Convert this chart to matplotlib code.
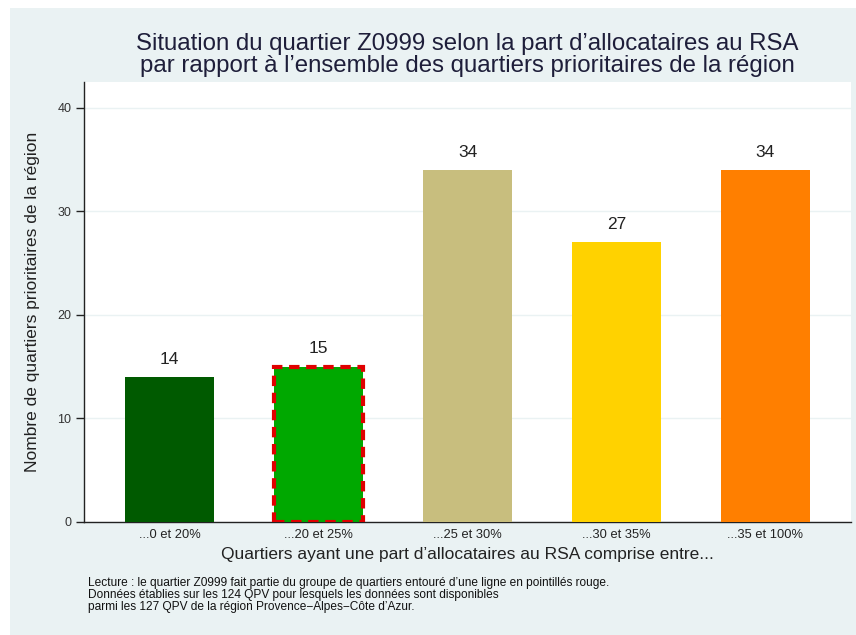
import matplotlib
matplotlib.use("Agg")
import matplotlib.pyplot as plt
from matplotlib.patches import Rectangle

plt.rcParams['font.family'] = ['Liberation Sans', 'DejaVu Sans']

# data
categories = ["...0 et 20%", "...20 et 25%", "...25 et 30%", "...30 et 35%", "...35 et 100%"]
counts = [14, 15, 34, 27, 34]
bar_colors = ["#005A00", "#00A800", "#C8BE7E", "#FFD200", "#FF7F00"]
highlight_index = 1

title = ("Situation du quartier Z0999 selon la part d\u2019allocataires au RSA\n"
         "par rapport \u00e0 l\u2019ensemble des quartiers prioritaires de la r\u00e9gion")
ylabel = "Nombre de quartiers prioritaires de la r\u00e9gion"
xlabel = "Quartiers ayant une part d\u2019allocataires au RSA comprise entre..."
note = ("Lecture : le quartier Z0999 fait partie du groupe de quartiers entour\u00e9 d\u2019une ligne en pointill\u00e9s rouge.\n"
        "Donn\u00e9es \u00e9tablies sur les 124 QPV pour lesquels les donn\u00e9es sont disponibles\n"
        "parmi les 127 QPV de la r\u00e9gion Provence\u2212Alpes\u2212C\u00f4te d\u2019Azur.")
yticks = [0, 10, 20, 30, 40]

BG = "#EAF2F3"
W, H = 856, 635

fig = plt.figure(figsize=(W / 100, H / 100), dpi=100)
fig.patch.set_facecolor("white")
# stata-like light background, small white margin at left / top
fig.patches.append(Rectangle((10 / W, 0), 1 - 10 / W, 1 - 8 / H, transform=fig.transFigure,
                             facecolor=BG, edgecolor="none", zorder=-10))

ax = fig.add_axes([84 / W, 1 - 522 / H, (851 - 84) / W, (522 - 82) / H])
ax.set_facecolor("white")

x = list(range(len(categories)))
bars = ax.bar(x, counts, width=0.6, color=bar_colors, zorder=3)

# dashed red outline around the highlighted group
hb = bars[highlight_index]
ax.add_patch(Rectangle((hb.get_x(), 0), hb.get_width(), hb.get_height(), fill=False,
                       edgecolor="#E00000", linewidth=3, linestyle=(0, (2.5, 1.6)), zorder=4))

for xi, v in zip(x, counts):
    ax.text(xi, v + 1.0, str(v), ha="center", va="bottom", fontsize=12.5, color="#222222")

ax.set_xlim(-0.575, 4.575)
ax.set_ylim(0, 42.5)
ax.set_yticks(yticks)
ax.set_yticklabels([str(t) for t in yticks], fontsize=9, color="#333333")
ax.set_xticks(x)
ax.set_xticklabels(categories, fontsize=9.3, color="#222222")
ax.tick_params(axis="x", length=0, pad=5)
ax.tick_params(axis="y", length=6, width=1, pad=3, color="#222222")
ax.grid(axis="y", color=BG, linewidth=1, zorder=0)

for s in ["top", "right"]:
    ax.spines[s].set_visible(False)
for s in ["left", "bottom"]:
    ax.spines[s].set_color("#222222")
    ax.spines[s].set_linewidth(1)

ax.set_ylabel(ylabel, fontsize=12.5, color="#222222")
ax.yaxis.set_label_coords(-(84 - 40) / (851 - 84), 0.5)
ax.set_xlabel(xlabel, fontsize=12.5, color="#222222", labelpad=4)

fig.text((84 + 851) / 2 / W, 1 - 55 / H, title, ha="center", va="center", fontsize=17.3,
         color="#1e1e3a", linespacing=1.0)
fig.text(88 / W, 1 - 595 / H, note, ha="left", va="center", fontsize=8.6, color="#111111",
         linespacing=0.95)

fig.savefig("out.png", dpi=100, facecolor=fig.get_facecolor())
